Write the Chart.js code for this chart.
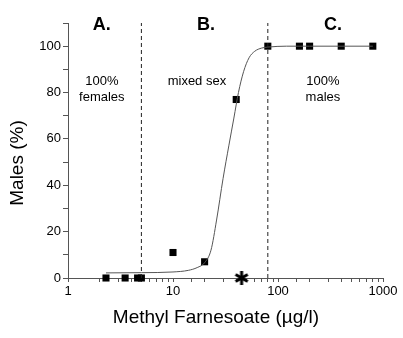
<!DOCTYPE html>
<html>
<head>
<meta charset="utf-8">
<script src="https://cdn.jsdelivr.net/npm/chart.js@4/dist/chart.umd.min.js"></script>
<style>
  html, body { margin: 0; padding: 0; background: #fff; }
  #wrap { width: 403px; height: 338px; }
</style>
</head>
<body>
<div id="wrap"><canvas id="mf"></canvas></div>
<script>
// measured points (Methyl Farnesoate, % males)
const doseX = [2.3, 3.5, 4.6, 5, 10, 20, 40, 80, 160, 200, 400, 800]
const malesY = [0, 0, 0, 0, 11, 7, 77, 100, 100, 100, 100, 100]

// fitted curve
const fitX = [2.3, 5, 10, 14, 17, 20, 23, 26, 30, 34, 38, 42, 47, 53, 60, 70, 80, 120, 200, 800]
const fitY = [2.2, 2.3, 2.6, 3.3, 4.5, 6.6, 12, 25, 43, 57, 69, 80, 89, 95, 97.8, 99.2, 99.6, 100, 100, 100]

const starX = [45]
const starY = [0]

const bounds = [5, 80]
const regionLetters = ['A.', 'B.', 'C.']
const regionText = [['100%', 'females'], ['mixed sex'], ['100%', 'males']]

const yTicks = [0, 20, 40, 60, 80, 100]
const xTicks = [1, 10, 100, 1000]

const xTitle = 'Methyl Farnesoate (\u00b5g/l)'
const yTitle = 'Males (%)'

const FONT = "'Liberation Sans', Arial, sans-serif"

const pts = (xs, ys) => xs.map((x, i) => ({ x: x, y: ys[i] }))

// six-armed asterisk marker
const aster = document.createElement('canvas')
aster.width = 16
aster.height = 16
{
  const c = aster.getContext('2d')
  c.strokeStyle = '#000'
  c.lineWidth = 3
  c.lineCap = 'butt'
  for (let k = 0; k < 3; k++) {
    const a = Math.PI / 2 + k * Math.PI / 3
    c.beginPath()
    c.moveTo(8 + 7 * Math.cos(a), 8 + 7 * Math.sin(a))
    c.lineTo(8 - 7 * Math.cos(a), 8 - 7 * Math.sin(a))
    c.stroke()
  }
}

const textPlugin = {
  id: 'texts',
  afterDraw(chart) {
    const ctx = chart.ctx
    const xs = chart.scales.x
    ctx.save()
    ctx.fillStyle = '#000'
    ctx.textAlign = 'center'
    ctx.textBaseline = 'middle'

    // region letters
    ctx.font = 'bold 18px ' + FONT
    const letterX = [2.1, 20.6, 334]
    regionLetters.forEach((t, i) => {
      ctx.fillText(t, xs.getPixelForValue(letterX[i]), 25)
    })

    // region notes
    ctx.font = '13px ' + FONT
    const noteX = [2.1, 16.9, 268]
    regionText.forEach((lines, i) => {
      lines.forEach((l, j) => {
        ctx.fillText(l, xs.getPixelForValue(noteX[i]), 81 + j * 16)
      })
    })

    // axis titles
    ctx.font = '19px ' + FONT
    ctx.fillText(xTitle, 216, 318)
    ctx.translate(18, 163)
    ctx.rotate(-Math.PI / 2)
    ctx.fillText(yTitle, 0, 0)
    ctx.restore()
  }
}

new Chart(document.getElementById('mf'), {
  type: 'scatter',
  data: {
    datasets: [
      {
        label: 'fit',
        data: pts(fitX, fitY),
        showLine: true,
        borderColor: '#555',
        borderWidth: 1,
        pointRadius: 0,
        cubicInterpolationMode: 'monotone'
      },
      {
        label: 'bound A/B',
        data: [{ x: bounds[0], y: 0 }, { x: bounds[0], y: 110 }],
        showLine: true,
        borderColor: '#222',
        borderWidth: 1,
        borderDash: [4, 3],
        pointRadius: 0
      },
      {
        label: 'bound B/C',
        data: [{ x: bounds[1], y: 0 }, { x: bounds[1], y: 110 }],
        showLine: true,
        borderColor: '#222',
        borderWidth: 1,
        borderDash: [4, 3],
        pointRadius: 0
      },
      {
        label: 'males',
        data: pts(doseX, malesY),
        pointStyle: 'rect',
        pointRadius: 5,
        backgroundColor: '#000',
        borderColor: '#000',
        borderWidth: 0
      },
      {
        label: 'star',
        data: pts(starX, starY),
        pointStyle: aster,
        pointRadius: 8
      }
    ]
  },
  options: {
    responsive: true,
    maintainAspectRatio: false,
    animation: false,
    clip: false,
    layout: { padding: { top: 23, right: 20, left: 0, bottom: 0 } },
    plugins: {
      legend: { display: false },
      tooltip: { enabled: false }
    },
    scales: {
      x: {
        type: 'logarithmic',
        min: 1,
        max: 1000,
        border: { display: true, color: '#555', width: 1 },
        grid: { display: true, drawOnChartArea: false, drawTicks: true, tickLength: 4, color: '#555' },
        ticks: {
          color: '#000',
          font: { family: FONT, size: 13 },
          padding: 2,
          maxRotation: 0,
          autoSkip: false,
          callback: v => xTicks.includes(v) ? String(v) : ''
        },
        afterFit: s => { s.height = 60 }
      },
      y: {
        min: 0,
        max: 110,
        border: { display: true, color: '#555', width: 1 },
        grid: { display: true, drawOnChartArea: false, drawTicks: true, tickLength: 5, color: '#555' },
        ticks: {
          stepSize: 10,
          color: '#000',
          font: { family: FONT, size: 13 },
          padding: 2,
          callback: v => yTicks.includes(v) ? String(v) : ''
        },
        afterFit: s => { s.width = 68 }
      }
    }
  },
  plugins: [textPlugin]
})
</script>
</body>
</html>
